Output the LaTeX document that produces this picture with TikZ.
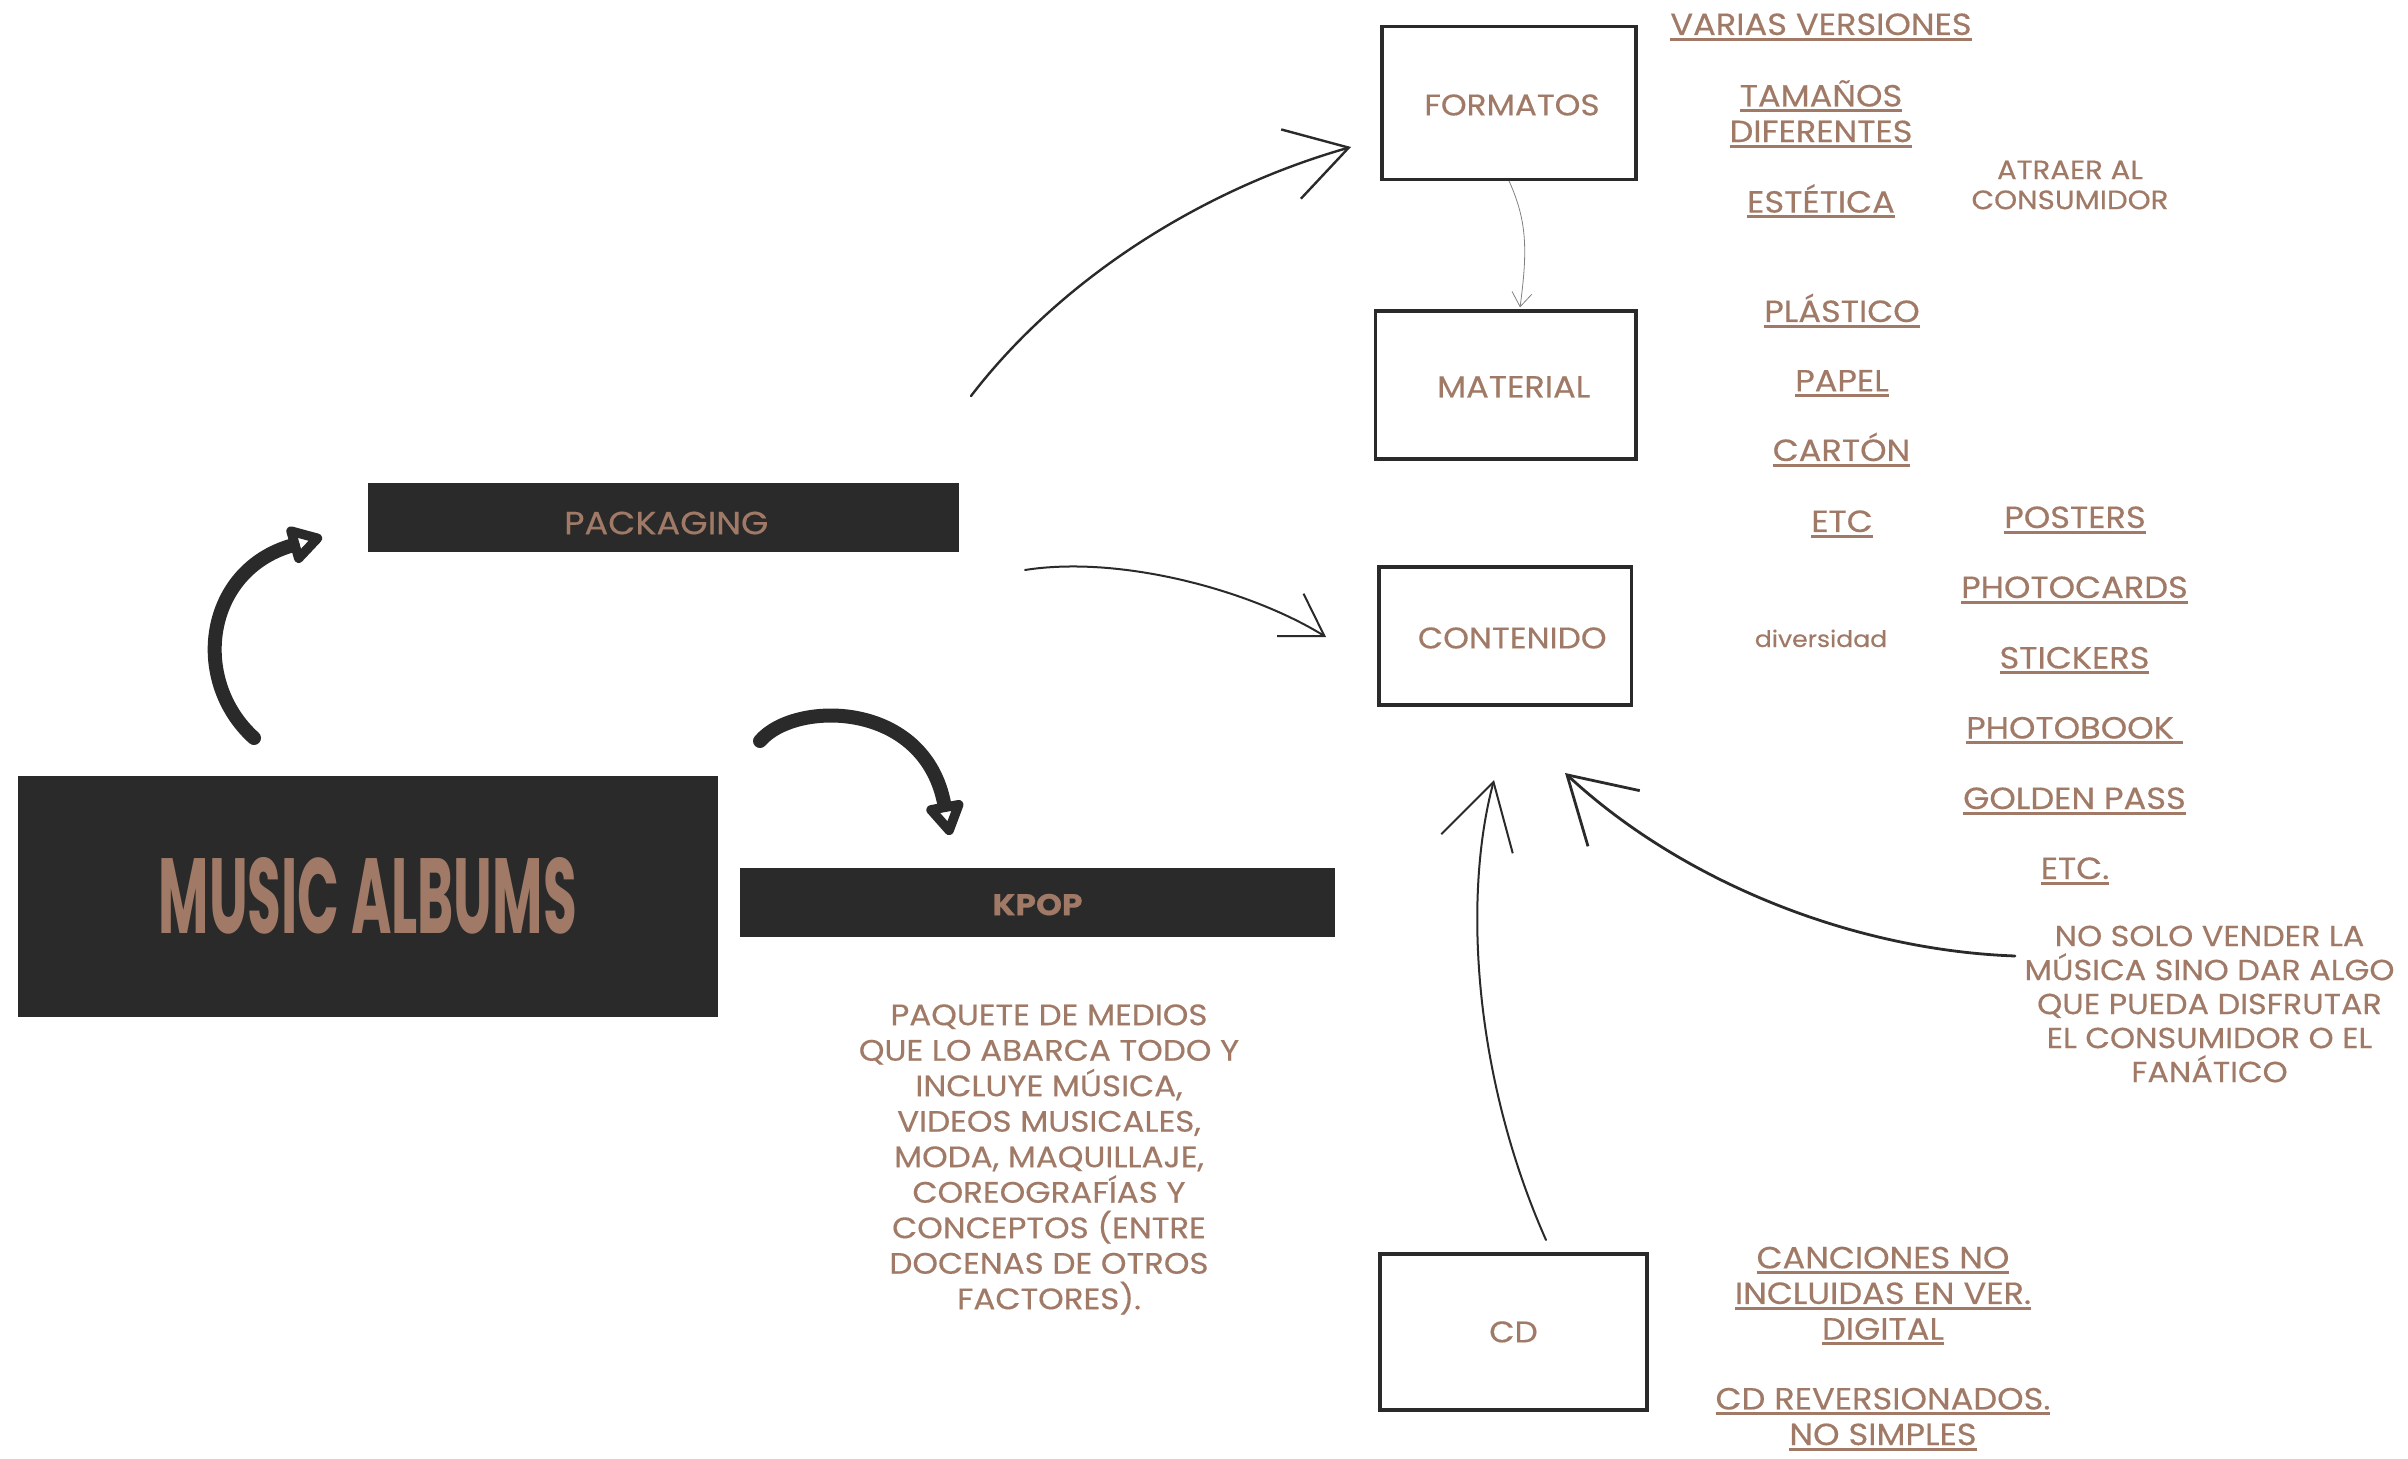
\documentclass[tikz,border=0pt]{standalone}
\usepackage{fontspec}
\setmainfont{Poppins}[FakeStretch=1.1,FakeBold=0.4]
\newfontfamily\albumfont{Poppins}
\usetikzlibrary{arrows.meta}
\definecolor{ink}{RGB}{42,42,42}
\definecolor{clay}{RGB}{160,122,102}
\newcommand{\ulbr}[1]{\setbox0=\hbox{#1}\rlap{\rule[-2.85pt]{\wd0}{1.5pt}}\box0}
\tikzset{
darkbox/.style={fill=ink,text=clay,inner sep=0pt},
linebox/.style={draw=ink,line width=1.6pt,text=clay,inner sep=0pt,text height=12.5pt,font=\fontsize{14.9}{18}\selectfont},
item/.style={text=clay,inner sep=0pt,anchor=base,font=\fontsize{15.3}{17.8}\selectfont},
note/.style={text=clay,inner sep=0pt,align=center,font=\fontsize{14.5}{17}\selectfont},
bigarrow/.style={draw=ink,line width=7pt,line cap=round,-{Triangle[open,round,length=19pt,width=21pt]}},
sketch/.style={draw=ink,line width=1.2pt,line cap=round}
}
\begin{document}
\begin{tikzpicture}[x=0.5pt,y=-0.5pt]
\useasboundingbox (0,0) rectangle (2408,1459);

% left side
\node[darkbox,minimum width=349.75pt,minimum height=120.35pt] (albums) at (367.75,896.3)
  {\resizebox{209pt}{38pt}{\albumfont\bfseries MUSIC ALBUMS}};
\node[darkbox,minimum width=295.25pt,minimum height=34.7pt,text height=17pt,font=\fontsize{16}{19}\selectfont] (pack) at (663.25,517.3) {\hspace*{3pt}PACKAGING};
\node[darkbox,minimum width=297.5pt,minimum height=34.3pt,text height=13pt,font=\fontsize{15}{18}\selectfont\bfseries] (kpop) at (1037.5,902.3) {KPOP};
\node[note,font=\fontsize{14.8}{17.75}\selectfont] (paq) at (1049,1159.5) {PAQUETE DE MEDIOS\\QUE LO ABARCA TODO Y\\INCLUYE MÚSICA,\\VIDEOS MUSICALES,\\MODA, MAQUILLAJE,\\COREOGRAFÍAS Y\\CONCEPTOS (ENTRE\\DOCENAS DE OTROS\\FACTORES).};

% middle column
\node[linebox,minimum width=127pt,minimum height=76.3pt] (fmt) at (1509,103) {\hspace*{3pt}FORMATOS};
\node[linebox,minimum width=130.25pt,minimum height=74pt,font=\fontsize{15.3}{18}\selectfont] (mat) at (1505.75,385) {\hspace*{8pt}MATERIAL};
\node[linebox,minimum width=126.25pt,minimum height=69pt] (cont) at (1505.25,636) {\hspace*{7pt}CONTENIDO};
\node[linebox,minimum width=133.5pt,minimum height=78pt,text height=10.4pt] (cd) at (1513.5,1332) {CD};

% right side
\node[item] (ver) at (1821,35) {\ulbr{VARIAS VERSIONES}};
\node[item,anchor=center,align=center] (tam) at (1821,114) {\ulbr{TAMAÑOS}\\\ulbr{DIFERENTES}};
\node[item] (est) at (1821,212.6) {\ulbr{ESTÉTICA}};
\node[note,font=\fontsize{13.3}{15}\selectfont] (atr) at (2070,185) {ATRAER AL\\CONSUMIDOR};
\node[item] (pla) at (1842,322) {\ulbr{PLÁSTICO}};
\node[item] (pap) at (1842,391.4) {\ulbr{PAPEL}};
\node[item] (car) at (1841.5,461) {\ulbr{CARTÓN}};
\node[item] (etc) at (1842,532) {\ulbr{ETC}};
\node[item,font=\fontsize{11.4}{14}\selectfont] (div) at (1821,647) {diversidad};
\node[item] (pos) at (2075,528) {\ulbr{POSTERS}};
\node[item] (pcd) at (2074.5,598) {\ulbr{PHOTOCARDS}};
\node[item] (stk) at (2074.5,668.5) {\ulbr{STICKERS}};
\node[item] (pbk) at (2074.5,738.5) {\ulbr{PHOTOBOOK\ }};
\node[item] (gld) at (2074.5,809) {\ulbr{GOLDEN PASS}};
\node[item] (etcb) at (2075,879) {\ulbr{ETC.}};
\node[note] (nosolo) at (2209.5,1004) {NO SOLO VENDER LA\\MÚSICA SINO DAR ALGO\\QUE PUEDA DISFRUTAR\\EL CONSUMIDOR O EL\\FANÁTICO};
\node[item,anchor=center,align=center] (can) at (1883,1296) {\ulbr{CANCIONES NO}\\\ulbr{INCLUIDAS EN VER.}\\\ulbr{DIGITAL}};
\node[item,anchor=center,align=center] (rev) at (1883,1419.3) {\ulbr{CD REVERSIONADOS.}\\\ulbr{NO SIMPLES}};

% arrow ends
\coordinate (up-s) at (254,738);
\coordinate (up-e) at (322,537);
\coordinate (kp-s) at (760,741);
\coordinate (kp-e) at (950,835);
\coordinate (fm-s) at (971,396);
\coordinate (fm-e) at (1351,147);
\coordinate (ct-s) at (1025,570);
\coordinate (ct-e) at (1326,637);
\coordinate (ns-s) at (2015,956);
\coordinate (ns-e) at (1565,773);
\coordinate (cd-s) at (1546,1240);
\coordinate (cd-e) at (1494,780);

\draw[bigarrow] (up-s) .. controls (190,680) and (205,570) .. (up-e);
\draw[bigarrow] (kp-s) .. controls (795,700) and (925,700) .. (kp-e);
\draw[sketch,-{Straight Barb[length=30pt,width=36pt]}] (fm-s) .. controls (1060,280) and (1200,190) .. (fm-e);
\draw[sketch,line width=1pt,-{Straight Barb[length=20pt,width=25pt]}] (ct-s) .. controls (1120,555) and (1250,590) .. (ct-e);
\draw[draw=gray,line width=0.4pt,-{Straight Barb[length=7pt,width=10pt]},shorten >=1pt] (fmt.south) .. controls +(18,40) and +(8,-60) .. ([xshift=7pt]mat.north);
\draw[sketch,line width=1.4pt,-{Straight Barb[length=32pt,width=38pt]}] (ns-s) .. controls (1850,950) and (1680,880) .. (ns-e);
\draw[sketch,line width=1pt,-{Straight Barb[length=32pt,width=37pt]}] (cd-s) .. controls (1475,1080) and (1462,900) .. (cd-e);
\end{tikzpicture}
\end{document}
